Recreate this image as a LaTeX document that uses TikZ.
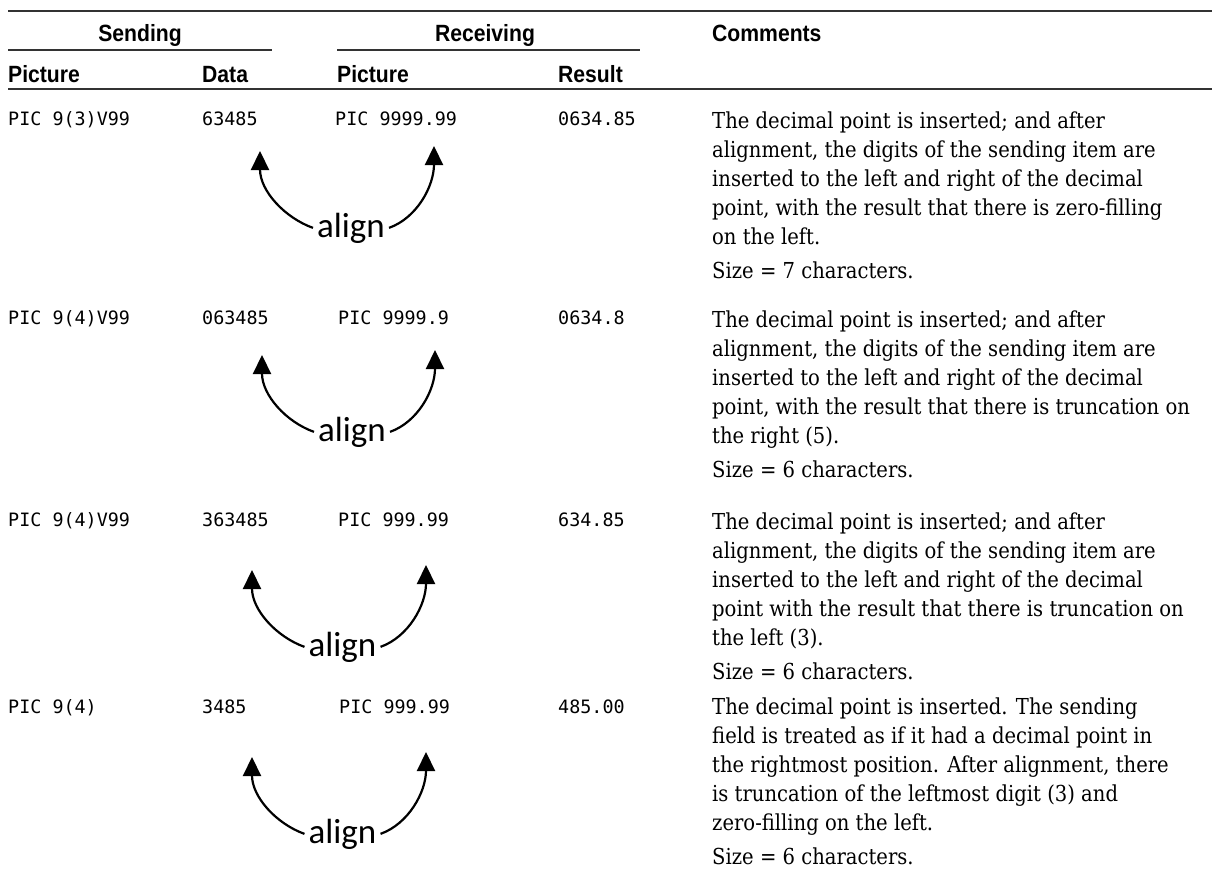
\documentclass[tikz,border=0pt]{standalone}
\usepackage{fontspec}
\usetikzlibrary{arrows.meta}
\setmainfont{DejaVu Serif}
\newfontfamily\hdfont{Liberation Sans}[FakeStretch=0.9]
\newfontfamily\codefont{DejaVu Sans Mono}
\newfontfamily\alfont{Carlito}
\newfontfamily\cmtfont{DejaVu Serif}[FakeStretch=0.89]

\tikzset{
  rule/.style={line width=1.4pt, draw=black!80},
  head/.style={font=\hdfont\bfseries\fontsize{23.5}{28}\selectfont, anchor=base west, inner sep=0pt},
  code/.style={font=\codefont\fontsize{18.4}{22}\selectfont, anchor=base west, inner sep=0pt},
  alabel/.style={font=\alfont\fontsize{35}{40}\selectfont, anchor=base, inner sep=0pt},
  curvearr/.style={line width=2.2pt, -{Triangle[width=18pt,length=19pt]}},
  cmt/.style={anchor=base west, inner sep=0pt},
}
\newcommand\cmtbox[1]{\parbox[t]{490pt}{\cmtfont\fontsize{22}{29}\selectfont\raggedright #1}}

\begin{document}
\begin{tikzpicture}[x=1pt,y=-1pt]
\useasboundingbox (0,0) rectangle (1212,875);

% table rules
\draw[rule] (8,11) -- (1212,11);
\draw[rule] (8,50) -- (272,50);
\draw[rule] (337,50) -- (640,50);
\draw[rule] (8,89) -- (1212,89);

% column heads
\node[head, anchor=base] (hsend) at (140,42) {Sending};
\node[head, anchor=base] (hrecv) at (485,42) {Receiving};
\node[head] (hcom) at (712,42) {Comments};
\node[head] (hpic1) at (8,82) {Picture};
\node[head] (hdata) at (202,82) {Data};
\node[head] (hpic2) at (337,82) {Picture};
\node[head] (hres) at (558,82) {Result};

% row 1
\node[code] (p1) at (8,125) {PIC 9(3)V99};
\node[code] (d1) at (202,125) {63485};
\node[code] (q1) at (335,125) {PIC 9999.99};
\node[code] (r1) at (558,125) {0634.85};
\node[cmt] (c1) at (712,128) {\cmtbox{The decimal point is inserted; and after\\
alignment, the digits of the sending item are\\
inserted to the left and right of the decimal\\
point, with the result that there is zero-filling\\
on the left.\\[5pt]
Size = 7 characters.}};
\coordinate (t1l) at (260,151);
\coordinate (t1r) at (434,146);
\node[alabel] (al1) at (351,237) {align};
\draw[curvearr] ([xshift=-4pt]al1.west) .. controls +(-28,-10) and +(0,40) .. (t1l);
\draw[curvearr] ([xshift=4pt]al1.east) .. controls +(28,-10) and +(0,40) .. (t1r);

% row 2
\node[code] (p2) at (8,324) {PIC 9(4)V99};
\node[code] (d2) at (202,324) {063485};
\node[code] (q2) at (338,324) {PIC 9999.9};
\node[code] (r2) at (558,324) {0634.8};
\node[cmt] (c2) at (712,327) {\cmtbox{The decimal point is inserted; and after\\
alignment, the digits of the sending item are\\
inserted to the left and right of the decimal\\
point, with the result that there is truncation on\\
the right (5).\\[5pt]
Size = 6 characters.}};
\coordinate (t2l) at (262,355);
\coordinate (t2r) at (435,350);
\node[alabel] (al2) at (352,441) {align};
\draw[curvearr] ([xshift=-4pt]al2.west) .. controls +(-28,-10) and +(0,40) .. (t2l);
\draw[curvearr] ([xshift=4pt]al2.east) .. controls +(28,-10) and +(0,40) .. (t2r);

% row 3
\node[code] (p3) at (8,526) {PIC 9(4)V99};
\node[code] (d3) at (202,526) {363485};
\node[code] (q3) at (338,526) {PIC 999.99};
\node[code] (r3) at (558,526) {634.85};
\node[cmt] (c3) at (712,529) {\cmtbox{The decimal point is inserted; and after\\
alignment, the digits of the sending item are\\
inserted to the left and right of the decimal\\
point with the result that there is truncation on\\
the left (3).\\[5pt]
Size = 6 characters.}};
\coordinate (t3l) at (252,570);
\coordinate (t3r) at (426,565);
\node[alabel] (al3) at (342.5,656) {align};
\draw[curvearr] ([xshift=-4pt]al3.west) .. controls +(-28,-10) and +(0,40) .. (t3l);
\draw[curvearr] ([xshift=4pt]al3.east) .. controls +(28,-10) and +(0,40) .. (t3r);

% row 4
\node[code] (p4) at (8,713) {PIC 9(4)};
\node[code] (d4) at (202,713) {3485};
\node[code] (q4) at (339,713) {PIC 999.99};
\node[code] (r4) at (558,713) {485.00};
\node[cmt] (c4) at (712,714) {\cmtbox{The decimal point is inserted. The sending\\
field is treated as if it had a decimal point in\\
the rightmost position. After alignment, there\\
is truncation of the leftmost digit (3) and\\
zero-filling on the left.\\[5pt]
Size = 6 characters.}};
\coordinate (t4l) at (252,757);
\coordinate (t4r) at (426,752);
\node[alabel] (al4) at (342.5,843) {align};
\draw[curvearr] ([xshift=-4pt]al4.west) .. controls +(-28,-10) and +(0,40) .. (t4l);
\draw[curvearr] ([xshift=4pt]al4.east) .. controls +(28,-10) and +(0,40) .. (t4r);
\end{tikzpicture}
\end{document}
